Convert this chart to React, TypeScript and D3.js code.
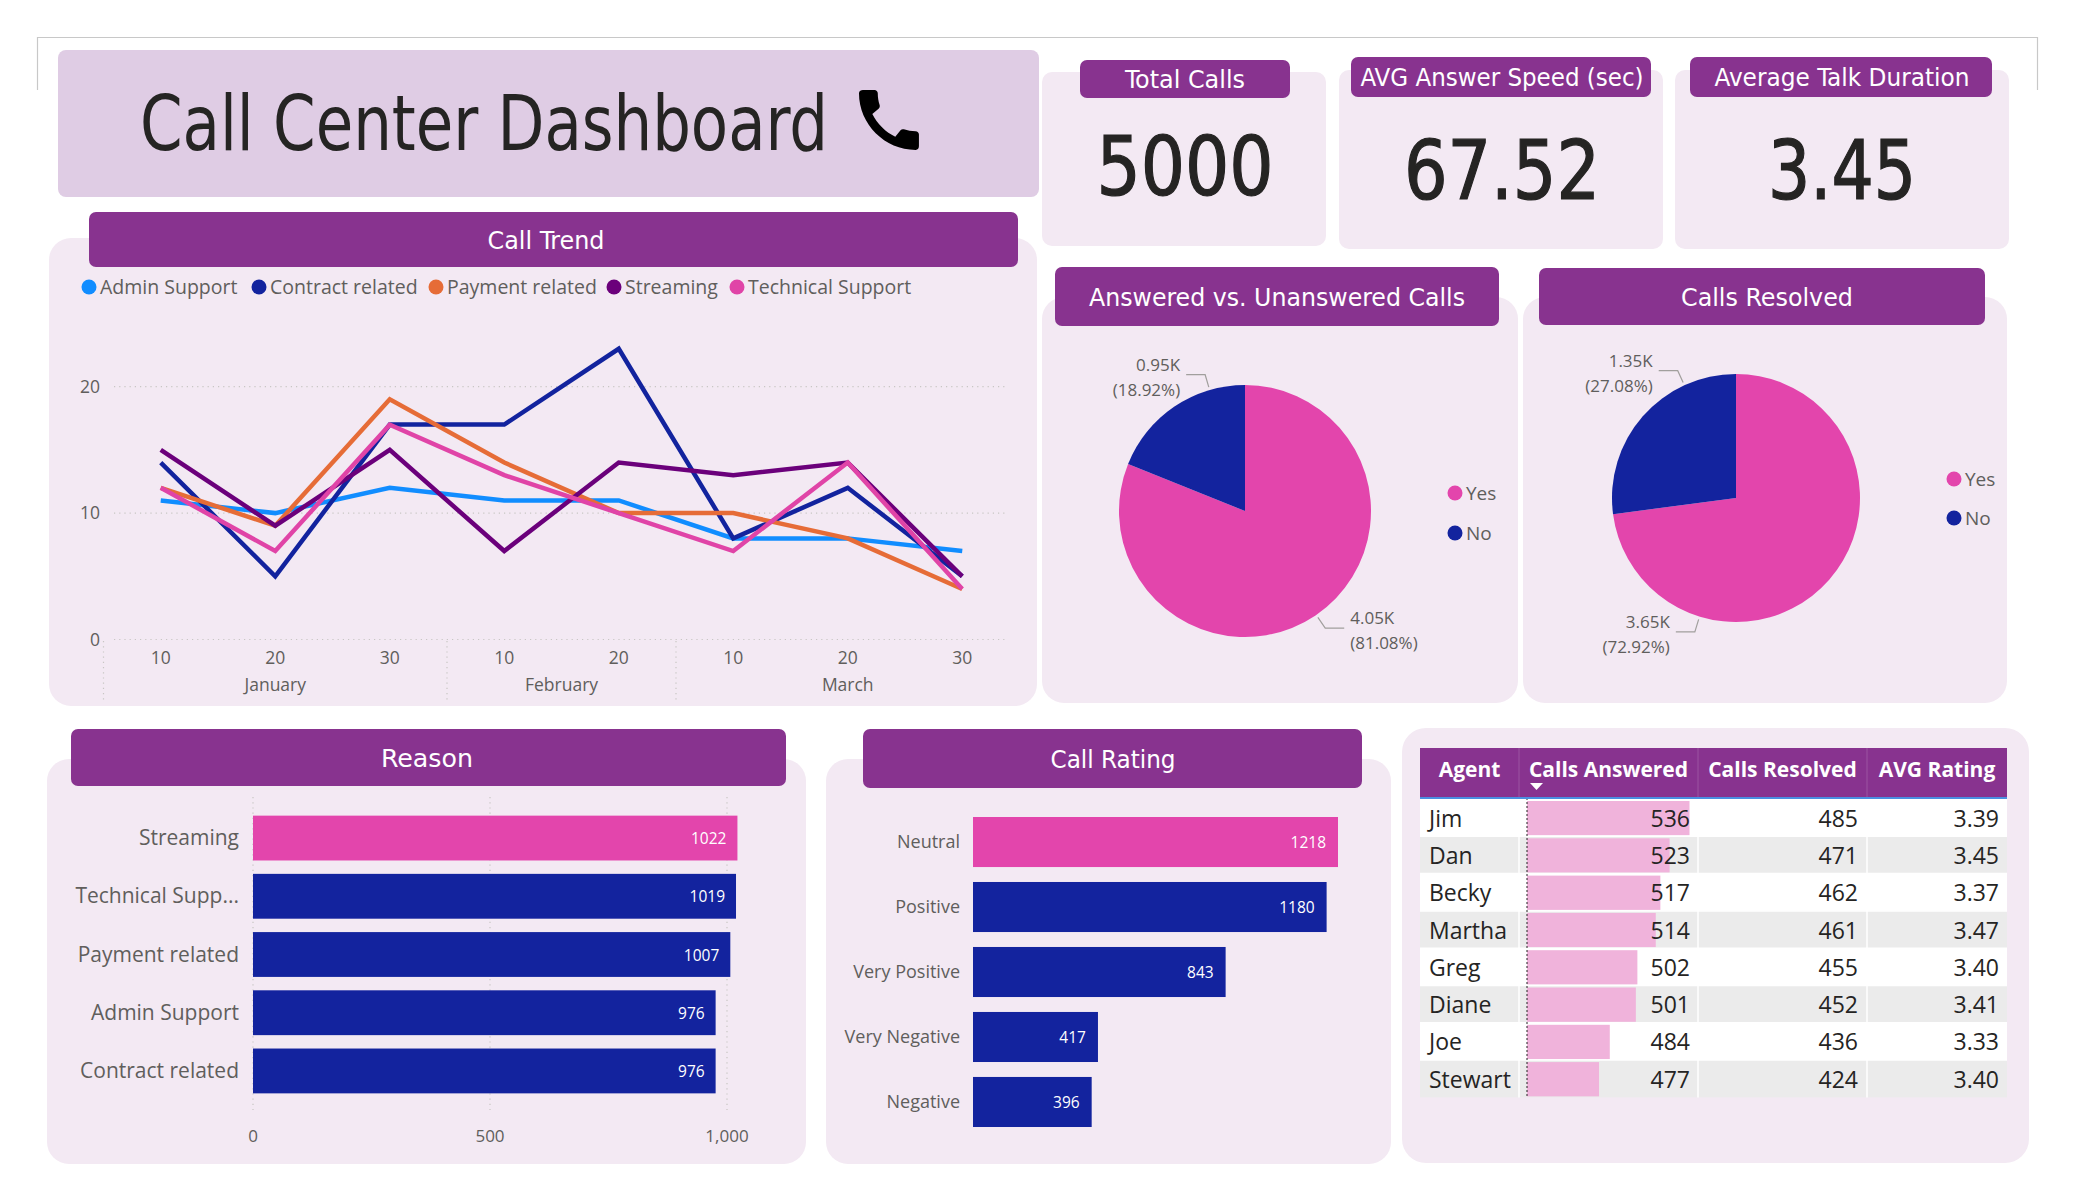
import React from "react";
import * as d3 from "d3";

// ---------------- data ----------------
const kpiLabels = ["Total Calls", "AVG Answer Speed (sec)", "Average Talk Duration"];
const kpiValues = ["5000", "67.52", "3.45"];

const trendDays = ["10", "20", "30", "10", "20", "10", "20", "30"];
const trendMonths = ["January", "January", "January", "February", "February", "March", "March", "March"];
const seriesNames = ["Admin Support", "Contract related", "Payment related", "Streaming", "Technical Support"];
const adminSupport = [11, 10, 12, 11, 11, 8, 8, 7];
const contractRelated = [14, 5, 17, 17, 23, 8, 12, 5];
const paymentRelated = [12, 9, 19, 14, 10, 10, 8, 4];
const streaming = [15, 9, 15, 7, 14, 13, 14, 5];
const technicalSupport = [12, 7, 17, 13, 10, 7, 14, 4];
const trendTicks = [0, 10, 20];

const pieCategories = ["Yes", "No"];
const answeredValues = [4054, 946];
const resolvedValues = [3646, 1354];

const reasonCategories = ["Streaming", "Technical Supp...", "Payment related", "Admin Support", "Contract related"];
const reasonValues = [1022, 1019, 1007, 976, 976];
const reasonTicks = [0, 500, 1000];

const ratingCategories = ["Neutral", "Positive", "Very Positive", "Very Negative", "Negative"];
const ratingValues = [1218, 1180, 843, 417, 396];

const tableColumns = ["Agent", "Calls Answered", "Calls Resolved", "AVG Rating"];
const agents = ["Jim", "Dan", "Becky", "Martha", "Greg", "Diane", "Joe", "Stewart"];
const callsAnswered = [536, 523, 517, 514, 502, 501, 484, 477];
const callsResolved = [485, 471, 462, 461, 455, 452, 436, 424];
const avgRating = [3.39, 3.45, 3.37, 3.47, 3.4, 3.41, 3.33, 3.4];

// ---------------- style ----------------
const seriesColors = ["#118DFF", "#12239E", "#E66C37", "#6B007B", "#E044A7"];
const PINK = "#E345AC";
const BLUE = "#13239E";
const PANEL = "#F3E9F3";
const HEADER = "#88338F";
const TITLEBOX = "#DFCCE4";
const GRAY = "#605E5C";
const DIN = "'DejaVu Sans Condensed', 'Liberation Sans Narrow', 'Roboto Condensed', 'DejaVu Sans', sans-serif";
const SEGOE = "'Segoe UI', 'Open Sans', 'Noto Sans', sans-serif";

function Box({ x, y, w, h, r, fill }: any) {
  return <rect x={x} y={y} width={w} height={h} rx={r} ry={r} fill={fill} />;
}

function Header({ x, y, w, h, text, cx, tw }: any) {
  return (
    <g>
      <rect x={x} y={y} width={w} height={h} rx={7} ry={7} fill={HEADER} />
      <text
        x={cx}
        y={y + h / 2 + 9}
        textAnchor="middle"
        fill="#fff"
        fontFamily={DIN}
        fontSize={25}
        textLength={tw}
        lengthAdjust="spacingAndGlyphs"
      >
        {text}
      </text>
    </g>
  );
}

function CallTrend() {
  const idx = d3.range(trendDays.length);
  const x = d3.scalePoint<number>().domain(idx).range([103.5, 1019.5]).padding(0.5);
  const y = d3.scaleLinear().domain([0, 25]).range([639.5, 323.5]);
  const step = x.step();
  const series = [adminSupport, contractRelated, paymentRelated, streaming, technicalSupport];
  const line = d3
    .line<number>()
    .x((_, i) => x(i) as number)
    .y((d) => y(d));
  const months = Array.from(new Set(trendMonths));
  const groups = months.map((m) => {
    const ids = idx.filter((i) => trendMonths[i] === m);
    return {
      m,
      start: (x(ids[0]) as number) - step / 2,
      mid: d3.mean(ids, (i) => x(i) as number) as number,
    };
  });
  const legendX = [89, 259, 436, 614, 737];
  return (
    <g>
      {seriesNames.map((s, i) => (
        <g key={s}>
          <circle cx={legendX[i]} cy={287} r={7.5} fill={seriesColors[i]} />
          <text x={legendX[i] + 11} y={294} fontFamily={SEGOE} fontSize={19.5} fill={GRAY}>
            {s}
          </text>
        </g>
      ))}
      {trendTicks.map((t) => (
        <g key={t}>
          <line x1={114} x2={1008} y1={y(t)} y2={y(t)} stroke="#C8C6C4" strokeWidth={1.2} strokeDasharray="1.2 4" />
          <text x={100} y={y(t) + 6} textAnchor="end" fontFamily={SEGOE} fontSize={17.5} fill={GRAY}>
            {t}
          </text>
        </g>
      ))}
      {groups.map((g) => (
        <g key={g.m}>
          <line x1={g.start} x2={g.start} y1={641} y2={702} stroke="#C8C6C4" strokeWidth={1.2} strokeDasharray="1.2 4" />
          <text x={g.mid} y={691} textAnchor="middle" fontFamily={SEGOE} fontSize={17.5} fill={GRAY}>
            {g.m}
          </text>
        </g>
      ))}
      {idx.map((i) => (
        <text key={i} x={x(i)} y={664} textAnchor="middle" fontFamily={SEGOE} fontSize={17.5} fill={GRAY}>
          {trendDays[i]}
        </text>
      ))}
      {series.map((s, i) => (
        <path key={i} d={line(s) as string} fill="none" stroke={seriesColors[i]} strokeWidth={4.5} strokeLinejoin="miter" />
      ))}
    </g>
  );
}

function Pie({ cx, cy, r, values, labelAngles, legendX, legendY }: any) {
  const arcs = d3.pie<number>().sort(null).value((d) => d)(values);
  const arc = d3.arc<d3.PieArcDatum<number>>().innerRadius(0).outerRadius(r);
  const total = d3.sum(values as number[]);
  const colors = [PINK, BLUE];
  const polar = (rad: number, deg: number) => {
    const a = (deg * Math.PI) / 180;
    return [cx + rad * Math.sin(a), cy - rad * Math.cos(a)];
  };
  return (
    <g>
      {arcs.map((a, i) => (
        <path key={i} d={arc(a) as string} transform={`translate(${cx},${cy})`} fill={colors[i]} />
      ))}
      {arcs.map((a, i) => {
        const deg = labelAngles[i];
        const p1 = polar(r + 3, deg);
        const p2 = polar(r + 16, deg);
        const dir = Math.sin((deg * Math.PI) / 180) >= 0 ? 1 : -1;
        const p3 = [p2[0] + dir * 19, p2[1]];
        const tx = p3[0] + dir * 6;
        const anchor = dir > 0 ? "start" : "end";
        const v = values[i];
        return (
          <g key={"l" + i}>
            <polyline points={`${p1[0]},${p1[1]} ${p2[0]},${p2[1]} ${p3[0]},${p3[1]}`} fill="none" stroke="#A19F9D" strokeWidth={1.2} />
            <text x={tx} y={p2[1] - 4} textAnchor={anchor} fontFamily={SEGOE} fontSize={17} fill={GRAY}>
              {d3.format(".2f")(v / 1000)}K
            </text>
            <text x={tx} y={p2[1] + 21} textAnchor={anchor} fontFamily={SEGOE} fontSize={17} fill={GRAY}>
              ({d3.format(".2%")(v / total)})
            </text>
          </g>
        );
      })}
      {pieCategories.map((c, i) => (
        <g key={c}>
          <circle cx={legendX} cy={legendY[i]} r={7.5} fill={colors[i]} />
          <text x={legendX + 11} y={legendY[i] + 7} fontFamily={SEGOE} fontSize={19} fill={GRAY}>
            {c}
          </text>
        </g>
      ))}
    </g>
  );
}

function ReasonChart() {
  const x = d3.scaleLinear().domain([0, 1000]).range([253, 727]);
  const y = d3.scaleBand().domain(reasonCategories).range([804, 1105]).paddingInner(0.23).paddingOuter(0.2);
  const maxV = d3.max(reasonValues) as number;
  return (
    <g>
      {reasonTicks.map((t) => (
        <g key={t}>
          <line x1={x(t)} x2={x(t)} y1={797} y2={1110} stroke="#C8C6C4" strokeWidth={1.2} strokeDasharray="1.2 4" />
          <text x={x(t)} y={1142} textAnchor="middle" fontFamily={SEGOE} fontSize={17} fill={GRAY}>
            {d3.format(",")(t)}
          </text>
        </g>
      ))}
      {reasonCategories.map((c, i) => {
        const v = reasonValues[i];
        const yy = y(c) as number;
        return (
          <g key={c}>
            <rect x={x(0)} y={yy} width={x(v) - x(0)} height={y.bandwidth()} fill={v === maxV ? PINK : BLUE} />
            <text x={x(v) - 11} y={yy + y.bandwidth() / 2 + 6} textAnchor="end" fontFamily={SEGOE} fontSize={15.5} fill="#fff">
              {v}
            </text>
            <text x={239} y={yy + y.bandwidth() / 2 + 7} textAnchor="end" fontFamily={SEGOE} fontSize={21} fill={GRAY}>
              {c}
            </text>
          </g>
        );
      })}
    </g>
  );
}

function RatingChart() {
  const x = d3.scaleLinear().domain([0, 1218]).range([973, 1338]);
  const y = d3.scaleBand().domain(ratingCategories).range([804, 1140]).paddingInner(0.23).paddingOuter(0.2);
  const maxV = d3.max(ratingValues) as number;
  return (
    <g>
      {ratingCategories.map((c, i) => {
        const v = ratingValues[i];
        const yy = y(c) as number;
        return (
          <g key={c}>
            <rect x={x(0)} y={yy} width={x(v) - x(0)} height={y.bandwidth()} fill={v === maxV ? PINK : BLUE} />
            <text x={x(v) - 12} y={yy + y.bandwidth() / 2 + 6} textAnchor="end" fontFamily={SEGOE} fontSize={15.5} fill="#fff">
              {v}
            </text>
            <text x={960} y={yy + y.bandwidth() / 2 + 6} textAnchor="end" fontFamily={SEGOE} fontSize={18} fill={GRAY}>
              {c}
            </text>
          </g>
        );
      })}
    </g>
  );
}

function AgentTable() {
  const colX = [1420, 1519, 1698, 1867, 2007];
  const headTop = 748;
  const headBottom = 798;
  const rowH = 37.3;
  const barStart = 1527;
  const bar = d3.scaleLinear().domain([430, 536]).range([0, 162.5]);
  const rows = agents.map((a, i) => [a, String(callsAnswered[i]), String(callsResolved[i]), avgRating[i].toFixed(2)]);
  return (
    <g>
      <rect x={colX[0]} y={headTop} width={colX[4] - colX[0]} height={headBottom - headTop} fill={HEADER} />
      {tableColumns.map((c, j) => (
        <text
          key={c}
          x={(colX[j] + colX[j + 1]) / 2}
          y={777}
          textAnchor="middle"
          fontFamily={SEGOE}
          fontWeight={700}
          fontSize={21}
          fill="#fff"
        >
          {c}
        </text>
      ))}
      {[1, 2, 3].map((j) => (
        <line key={j} x1={colX[j]} x2={colX[j]} y1={headTop} y2={headBottom} stroke="#9B55A1" strokeWidth={1} />
      ))}
      <path d={`M1530,783 L1543,783 L1536.5,790 Z`} fill="#fff" />
      {rows.map((r, i) => {
        const top = headBottom + 1 + i * rowH;
        return (
          <g key={r[0]}>
            <rect x={colX[0]} y={top} width={colX[4] - colX[0]} height={rowH} fill={i % 2 === 0 ? "#FFFFFF" : "#EBEBEB"} />
            <rect x={barStart} y={top + 2} width={bar(callsAnswered[i])} height={rowH - 3} fill="#F0B3DB" />
            <line x1={colX[0]} x2={colX[4]} y1={top} y2={top} stroke="#FFFFFF" strokeWidth={1.5} />
            <text x={1429} y={top + rowH / 2 + 9} fontFamily={SEGOE} fontSize={23} fill="#252423">
              {r[0]}
            </text>
            <text x={1690} y={top + rowH / 2 + 9} textAnchor="end" fontFamily={SEGOE} fontSize={23} fill="#252423">
              {r[1]}
            </text>
            <text x={1858} y={top + rowH / 2 + 9} textAnchor="end" fontFamily={SEGOE} fontSize={23} fill="#252423">
              {r[2]}
            </text>
            <text x={1999} y={top + rowH / 2 + 9} textAnchor="end" fontFamily={SEGOE} fontSize={23} fill="#252423">
              {r[3]}
            </text>
          </g>
        );
      })}
      {[1, 2, 3].map((j) => (
        <line key={"c" + j} x1={colX[j]} x2={colX[j]} y1={headBottom} y2={headBottom + rowH * rows.length + 1} stroke="#FFFFFF" strokeWidth={1.5} />
      ))}
      <line x1={barStart} x2={barStart} y1={headBottom} y2={headBottom + rowH * rows.length + 1} stroke="#222" strokeWidth={1} strokeDasharray="2 2" />
      <line x1={colX[0]} x2={colX[4]} y1={headBottom} y2={headBottom} stroke="#4A8FE0" strokeWidth={2} />
    </g>
  );
}

export default function App() {
  const kpiCards = [
    { px: 1042, py: 72, pw: 284, ph: 174, hx: 1080, hy: 60, hw: 210, hh: 38, cx: 1185, tw: 120, vw: 177, vy: 195 },
    { px: 1339, py: 70, pw: 324, ph: 179, hx: 1351, hy: 57, hw: 300, hh: 40, cx: 1502, tw: 283, vw: 196, vy: 199 },
    { px: 1675, py: 70, pw: 334, ph: 179, hx: 1690, hy: 57, hw: 302, hh: 40, cx: 1842, tw: 255, vw: 148, vy: 199 },
  ];
  return (
    <svg width={2075} height={1200} style={{ position: "absolute", left: 0, top: 0, background: "#fff" }}>
      <rect x={0} y={0} width={2075} height={1200} fill="#fff" />
      <path d="M37.5,90 L37.5,37.5 L2037.5,37.5 L2037.5,90" fill="none" stroke="#C8C8C8" strokeWidth={1.2} />

      {/* Title */}
      <Box x={58} y={50} w={981} h={147} r={8} fill={TITLEBOX} />
      <text x={140} y={150} fontFamily={DIN} fontSize={76} fill="#252423" textLength={688} lengthAdjust="spacingAndGlyphs">
        Call Center Dashboard
      </text>
      <path
        transform="translate(849,80) scale(3.33)"
        fill="#000"
        d="M20.01 15.38c-1.23 0-2.42-.2-3.530-.56-.35-.12-.74-.03-1.01.24l-1.57 1.97c-2.83-1.35-5.48-3.9-6.89-6.83l1.95-1.66c.27-.28.35-.67.24-1.02-.37-1.11-.56-2.3-.56-3.53 0-.54-.45-.99-.99-.99H4.19C3.65 3 3 3.24 3 3.990 3 13.28 10.73 21 20.01 21c.71 0 .99-.63.99-1.18v-3.45c0-.54-.45-.99-.99-.99z"
      />

      {/* Call trend */}
      <Box x={49} y={238} w={988} h={468} r={22} fill={PANEL} />
      <Header x={89} y={212} w={929} h={55} text="Call Trend" cx={546} tw={117} />
      <CallTrend />

      {/* KPI cards */}
      {kpiCards.map((k, i) => (
        <g key={i}>
          <Box x={k.px} y={k.py} w={k.pw} h={k.ph} r={10} fill={PANEL} />
          <Header x={k.hx} y={k.hy} w={k.hw} h={k.hh} text={kpiLabels[i]} cx={k.cx} tw={k.tw} />
          <text
            x={k.cx}
            y={k.vy}
            textAnchor="middle"
            fontFamily={DIN}
            fontWeight={400}
            fontSize={82}
            fill="#252423"
            stroke="#252423"
            strokeWidth={1.2}
            textLength={k.vw}
            lengthAdjust="spacingAndGlyphs"
          >
            {kpiValues[i]}
          </text>
        </g>
      ))}

      {/* Answered pie */}
      <Box x={1042} y={297} w={476} h={406} r={22} fill={PANEL} />
      <Header x={1055} y={267} w={444} h={59} text="Answered vs. Unanswered Calls" cx={1277} tw={376} />
      <Pie cx={1245} cy={511} r={126} values={answeredValues} labelAngles={[145.6, 343.7]} legendX={1455} legendY={[493, 533]} />

      {/* Resolved pie */}
      <Box x={1523} y={297} w={484} h={406} r={22} fill={PANEL} />
      <Header x={1539} y={268} w={446} h={57} text="Calls Resolved" cx={1767} tw={172} />
      <Pie cx={1736} cy={498} r={124} values={resolvedValues} labelAngles={[197.1, 335.4]} legendX={1954} legendY={[479, 518]} />

      {/* Reason */}
      <Box x={47} y={759} w={759} h={405} r={22} fill={PANEL} />
      <Header x={71} y={729} w={715} h={57} text="Reason" cx={427} tw={92} />
      <ReasonChart />

      {/* Call rating */}
      <Box x={826} y={759} w={565} h={405} r={22} fill={PANEL} />
      <Header x={863} y={729} w={499} h={59} text="Call Rating" cx={1113} tw={125} />
      <RatingChart />

      {/* Agent table */}
      <Box x={1402} y={728} w={627} h={435} r={24} fill={PANEL} />
      <AgentTable />
    </svg>
  );
}
